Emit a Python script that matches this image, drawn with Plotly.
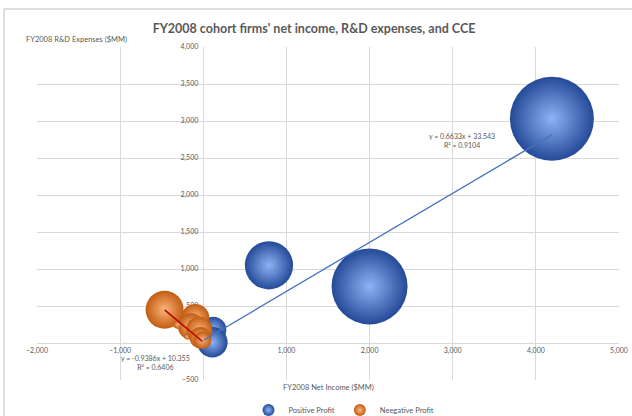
import plotly.graph_objects as go

# FY2008 cohort: net income (x), R&D expenses (y), cash & cash equivalents (bubble size), $MM
pos_income = [4193, 2000, 790, 120, 110, 5]
pos_rnd = [3030, 765, 1050, 180, 10, 30]
pos_cce = [8800, 7200, 2900, 850, 1150, 180]

neg_income = [-465, -96, -148, -309, -193, -48, -36, -10]
neg_rnd = [450, 338, 224, 247, 89, 180, 72, 38]
neg_cce = [1800, 980, 850, 80, 45, 850, 560, 380]

# Linear trendlines (slope, intercept, R^2)
pos_fit = (0.6633, 33.543, 0.9104)
neg_fit = (-0.9386, 10.355, 0.6406)

x_ticks = [-2000, -1000, 0, 1000, 2000, 3000, 4000, 5000]
y_ticks = [-500, 0, 500, 1000, 1500, 2000, 2500, 3000, 3500, 4000]

W, H = 632, 416
M_L, M_R, M_T, M_B = 37, 13, 47, 36
PW, PH = W - M_L - M_R, H - M_T - M_B
X_RANGE = [-2000, 5000]
Y_RANGE = [-500, 4000]

FONT = "Lato, 'Open Sans', sans-serif"
GREY = "#595959"
GRID = "#d9d9d9"


def px_x(px):
    return (px - M_L) / PW


def px_y(py):
    return (H - M_B - py) / PH


MAX_R = 42  # radius in px of the largest bubble
sizeref = max(pos_cce + neg_cce) / 2.0 / MAX_R ** 2

fig = go.Figure()

fig.add_trace(go.Scatter(
    x=pos_income, y=pos_rnd, mode="markers", name="Positive Profit",
    marker=dict(size=pos_cce, sizemode="area", sizeref=sizeref, opacity=1,
                color="#244A98", line=dict(width=0),
                gradient=dict(type="radial", color="#8DB3F4")),
    hoverinfo="x+y",
))
fig.add_trace(go.Scatter(
    x=neg_income, y=neg_rnd, mode="markers", name="Neegative Profit",
    marker=dict(size=neg_cce, sizemode="area", sizeref=sizeref, opacity=1,
                color="#C25C12", line=dict(width=0),
                gradient=dict(type="radial", color="#FAB47A")),
    hoverinfo="x+y",
))


def trend(xs, fit):
    lo, hi = min(xs), max(xs)
    return [lo, hi], [fit[0] * lo + fit[1], fit[0] * hi + fit[1]]


tx, ty = trend(pos_income, pos_fit)
fig.add_trace(go.Scatter(x=tx, y=ty, mode="lines", showlegend=False,
                         line=dict(color="#4472C4", width=1.3), hoverinfo="skip"))
tx, ty = trend(neg_income, neg_fit)
fig.add_trace(go.Scatter(x=tx, y=ty, mode="lines", showlegend=False,
                         line=dict(color="#C00000", width=1.5), hoverinfo="skip"))


def eq_text(fit):
    slope, icpt, r2 = fit
    sign = "+" if icpt >= 0 else "-"
    return f"y = {slope:.4f}x {sign} {abs(icpt):.3f}<br>R² = {r2:.4f}"


annotations = [
    dict(x=3117, y=2730, xref="x", yref="y", text=eq_text(pos_fit), showarrow=False,
         font=dict(family=FONT, size=7, color=GREY), align="center"),
    dict(x=-578, y=-269, xref="x", yref="y", text=eq_text(neg_fit), showarrow=False,
         font=dict(family=FONT, size=7, color=GREY), align="center"),
    dict(x=px_x(24), y=px_y(40), xref="paper", yref="paper", xanchor="left",
         yanchor="middle", text="FY2008 R&D Expenses ($MM)", showarrow=False,
         font=dict(family=FONT, size=7.5, color=GREY)),
    dict(x=px_x(328), y=px_y(387.5), xref="paper", yref="paper", xanchor="center",
         yanchor="middle", text="FY2008 Net Income ($MM)", showarrow=False,
         font=dict(family=FONT, size=7.5, color=GREY)),
]

axis_common = dict(
    showgrid=True, gridcolor=GRID, gridwidth=1,
    zeroline=True, zerolinecolor=GRID, zerolinewidth=1,
    showline=False, ticks="", tickformat=",d",
    tickfont=dict(family=FONT, size=7, color=GREY),
    layer="below traces", fixedrange=True,
)

fig.update_layout(
    width=W, height=H,
    margin=dict(l=M_L, r=M_R, t=M_T, b=M_B, autoexpand=False),
    paper_bgcolor="white", plot_bgcolor="white",
    title=dict(text="FY2008 cohort firms' net income, R&D expenses, and CCE",
               x=px_x(314), xref="paper", xanchor="center",
               y=1 - 29 / H, yanchor="middle",
               font=dict(family=FONT, size=12.5, color=GREY, weight="bold")),
    xaxis=dict(range=X_RANGE, tickvals=x_ticks, anchor="free",
               position=(0 - Y_RANGE[0]) / (Y_RANGE[1] - Y_RANGE[0]),
               ticklabelstandoff=2, **axis_common),
    yaxis=dict(range=Y_RANGE, tickvals=y_ticks, anchor="free",
               position=(0 - X_RANGE[0]) / (X_RANGE[1] - X_RANGE[0]),
               ticklabelstandoff=5, **axis_common),
    legend=dict(orientation="h", x=px_x(344), xanchor="center",
                y=px_y(410), yanchor="middle", itemsizing="constant",
                font=dict(family=FONT, size=7.5, color=GREY),
                bgcolor="rgba(0,0,0,0)"),
    showlegend=True,
    annotations=annotations,
    shapes=[dict(type="rect", xref="paper", yref="paper",
                 x0=px_x(4), y0=px_y(440), x1=px_x(650), y1=px_y(9),
                 line=dict(color="#bfbfbf", width=1), layer="below")],
)

fig.write_html("out.html")
